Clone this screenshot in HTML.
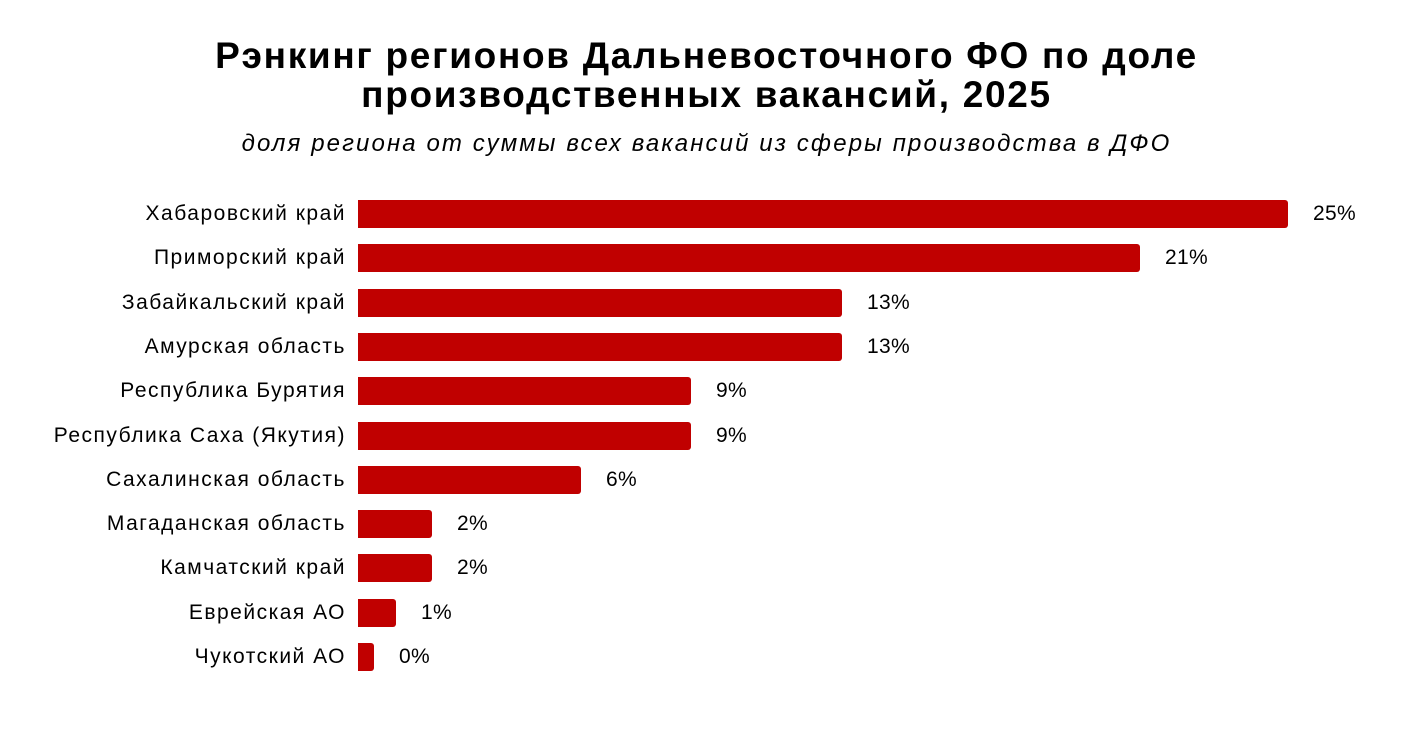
<!DOCTYPE html>
<html><head><meta charset="utf-8"><style>
body{margin:0;background:#fff;width:1413px;height:742px;position:relative;font-family:"Liberation Sans",sans-serif;overflow:hidden}
.t{position:absolute;left:0;width:1413px;text-align:center;font-weight:bold;font-size:37px;letter-spacing:1.7px;line-height:39px;top:36px;color:#000}
.s{position:absolute;left:0;width:1413px;text-align:center;font-style:italic;font-size:24px;letter-spacing:2.1px;top:130px}
.l{position:absolute;right:1067px;font-size:21px;letter-spacing:1.5px;white-space:nowrap}
.b{position:absolute;left:358px;height:28px;background:#c00000;border-radius:0 3px 3px 0}
.v{position:absolute;font-size:21px;letter-spacing:0.3px}
</style></head><body>
<div class="t">Рэнкинг регионов Дальневосточного ФО по доле<br>производственных вакансий, 2025</div>
<div class="s">доля региона от суммы всех вакансий из сферы производства в ДФО</div>
<div id="c"></div>
<script>
var d=[["Хабаровский край",1288,"25%"],["Приморский край",1140,"21%"],["Забайкальский край",842,"13%"],["Амурская область",842,"13%"],["Республика Бурятия",691,"9%"],["Республика Саха (Якутия)",691,"9%"],["Сахалинская область",581,"6%"],["Магаданская область",432,"2%"],["Камчатский край",432,"2%"],["Еврейская АО",396,"1%"],["Чукотский АО",374,"0%"]];
var h="";d.forEach(function(r,i){var y=200+i*44.3;
h+='<div class="l" style="top:'+(y+2)+'px">'+r[0]+'</div><div class="b" style="top:'+y+'px;width:'+(r[1]-358)+'px"></div><div class="v" style="top:'+(y+2)+'px;left:'+(r[1]+25)+'px">'+r[2]+'</div>';});
document.getElementById("c").innerHTML=h;
</script>
</body></html>
